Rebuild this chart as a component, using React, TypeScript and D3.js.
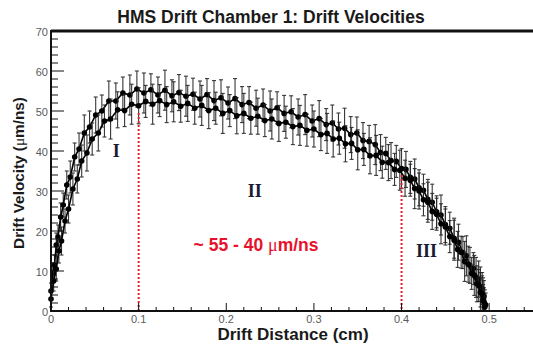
import React from "react";
import * as d3 from "d3";

const W = 533;
const H = 345;

const title = "HMS Drift Chamber 1: Drift Velocities";
const xTitle = "Drift Distance (cm)";

const xMajorTicks = [0, 0.1, 0.2, 0.3, 0.4, 0.5];
const xTickLabels = ["0", "0.1", "0.2", "0.3", "0.4", "0.5"];
const yMajorTicks = [0, 10, 20, 30, 40, 50, 60, 70];
const yTickLabels = ["0", "10", "20", "30", "40", "50", "60", "70"];

// Upper series
const xA = [
  0.0, 0.002, 0.004, 0.006, 0.008, 0.011, 0.014, 0.018, 0.022, 0.027, 0.032, 0.038,
  0.044, 0.051, 0.058, 0.066, 0.074, 0.082, 0.09, 0.098, 0.106, 0.114, 0.122, 0.13,
  0.138, 0.146, 0.154, 0.162, 0.17, 0.178, 0.186, 0.194, 0.202, 0.21, 0.218, 0.226,
  0.234, 0.242, 0.25, 0.258, 0.266, 0.274, 0.282, 0.29, 0.298, 0.306, 0.314, 0.321,
  0.328, 0.335, 0.342, 0.349, 0.356, 0.363, 0.37, 0.376, 0.382, 0.388, 0.394, 0.4,
  0.405, 0.41, 0.415, 0.42, 0.425, 0.43, 0.435, 0.44, 0.445, 0.45, 0.455, 0.46,
  0.465, 0.47, 0.474, 0.478, 0.482, 0.485, 0.488, 0.49, 0.492, 0.493, 0.494, 0.495,
  0.496,
];
const yA = [
  5, 9.5, 11.5, 16.5, 18.5, 23.5, 26.5, 31.5, 33.5, 38.5, 40.5, 44.5,
  46, 49, 50, 52.5, 52.5, 54.5, 54, 55.5, 54.5, 55.3, 54, 55.2,
  53.8, 54.6, 53.7, 54.2, 53, 54.1, 52.6, 53.3, 52, 53.1, 51.6, 52.1,
  50.7, 51.5, 50, 50.8, 49.4, 49.8, 48.5, 49.1, 47.5, 48.1, 46.6, 47,
  45.5, 45.7, 44.1, 44.5, 42.6, 42.4, 41.6, 39.6, 39.4, 37.6, 37.4, 35.6,
  35.4, 33.4, 33, 30.8, 30.2, 27.9, 27.2, 24.8, 24, 21.6, 20.7, 18.2,
  17.2, 14.6, 13.8, 11.4, 10.6, 8.4, 8, 6, 5.6, 3.8, 3.6, 1.8,
  1.5,
];
const errA = [
  2, 2.5, 2.5, 3, 3, 3.5, 3, 3.5, 4, 3.5, 4, 4.5,
  4, 4.5, 4, 5, 4.5, 4, 5, 4.5, 5, 4, 4.5, 5,
  4, 4.5, 5, 4, 4.5, 4, 5, 4.5, 4, 5, 4.5, 4,
  4.5, 4, 5, 4, 4.5, 4, 4.5, 5, 4, 4.5, 4, 4.5,
  4, 5, 4.5, 4, 4.5, 4, 5, 4.5, 4, 4.5, 4, 5,
  4.5, 4, 5, 4.5, 4, 5, 4.5, 4, 5, 4.5, 4, 5,
  4.5, 4, 5, 4.5, 4, 5, 4.5, 5, 4, 4.5, 4, 3.5,
  3,
];

// Lower series
const xB = [
  0.0, 0.003, 0.006, 0.009, 0.012, 0.016, 0.02, 0.025, 0.03, 0.035, 0.041, 0.047,
  0.054, 0.061, 0.068, 0.076, 0.084, 0.092, 0.1, 0.108, 0.116, 0.124, 0.132, 0.14,
  0.148, 0.156, 0.164, 0.172, 0.18, 0.188, 0.196, 0.204, 0.212, 0.22, 0.228, 0.236,
  0.244, 0.252, 0.26, 0.268, 0.276, 0.284, 0.292, 0.3, 0.308, 0.315, 0.322, 0.329,
  0.336, 0.343, 0.35, 0.357, 0.364, 0.371, 0.378, 0.385, 0.392, 0.398, 0.404, 0.41,
  0.415, 0.42, 0.425, 0.43, 0.435, 0.44, 0.445, 0.45, 0.455, 0.46, 0.464, 0.468,
  0.472, 0.476, 0.48, 0.483, 0.486, 0.488, 0.49, 0.492, 0.493, 0.494, 0.495,
];
const yB = [
  3, 7.5, 10.5, 15, 17.5, 22.5, 25.5, 30.5, 33, 37.5, 39.5, 43,
  44.5, 47.5, 48, 50.3, 50.1, 51.7, 51.3, 52.4, 51.7, 52.6, 51.6, 52.3,
  51.2, 51.9, 50.7, 51.4, 50.1, 50.7, 49.4, 50.1, 48.8, 49.4, 48.2, 48.7,
  47.6, 48, 46.9, 47.2, 46.1, 46.4, 45.2, 45.5, 44.1, 44.4, 43, 43.2,
  41.8, 41.9, 40.3, 40.4, 38.8, 38.9, 37.2, 37.1, 35.4, 35.2, 33.2, 32.7,
  30.6, 30, 27.8, 27.2, 24.9, 24.2, 21.8, 21, 18.6, 17.7, 15.4, 14.7,
  12.4, 11.7, 9.4, 8.9, 6.8, 6.4, 4.6, 4.3, 2.6, 2.3, 1,
];
const errB = [
  2, 2.5, 3, 3, 3.5, 3, 3.5, 4, 3.5, 4, 4.5, 4,
  4.5, 4, 5, 4.5, 4, 5, 4.5, 4, 5, 4, 4.5, 5,
  4, 4.5, 4, 5, 4.5, 4, 5, 4, 4.5, 5, 4, 4.5,
  4, 5, 4.5, 4, 4.5, 5, 4, 4.5, 4, 5, 4.5, 4,
  4.5, 4, 5, 4, 4.5, 5, 4, 4.5, 4, 5, 4.5, 4,
  5, 4.5, 4, 5, 4.5, 4, 5, 4.5, 4, 5, 4.5, 4,
  5, 4.5, 4, 5, 4.5, 4, 5, 4.5, 4, 3.5, 3,
];

const regionLines = [
  { x: 0.1, top: 49.5 },
  { x: 0.4, top: 34 },
];

const regionLabels = [
  { text: "I", x: 0.0746, y: 38.5 },
  { text: "II", x: 0.2324, y: 28.5 },
  { text: "III", x: 0.4285, y: 13.5 },
];

const rateLabel = { pre: "~ 55 - 40 ", mu: "μ", post: "m/ns", x: 0.234, y: 15 };

type Pt = { x: number; y: number; e: number };

export default function App() {
  const left = 51;
  const right = 533;
  const top = 31;
  const bottom = 311;

  const x = d3.scaleLinear().domain([0, 0.55]).range([left, right]);
  const y = d3.scaleLinear().domain([0, 70]).range([bottom, top]);

  const xMinor = d3
    .range(0, 0.5501, 0.02)
    .filter((v) => Math.abs(v * 10 - Math.round(v * 10)) > 1e-6);
  const yMinor = d3.range(0, 70.01, 2).filter((v) => v % 10 !== 0);

  const series: Pt[][] = [
    xA.map((v, i) => ({ x: v, y: yA[i], e: errA[i] })),
    xB.map((v, i) => ({ x: v, y: yB[i], e: errB[i] })),
  ];
  const line = d3
    .line<Pt>()
    .x((d) => x(d.x))
    .y((d) => y(d.y));

  const sans = "'Liberation Sans', Arial, Helvetica, sans-serif";
  const serif = "'Liberation Serif', 'DejaVu Serif', serif";

  return (
    <svg
      width={W}
      height={H}
      style={{ position: "absolute", left: 0, top: 0, background: "#fff" }}
    >
      <rect x={0} y={0} width={W} height={H} fill="#fff" />
      {/* title */}
      <text x={271} y={23} textAnchor="middle" fontFamily={sans} fontWeight="bold" fontSize={17.5} fill="#1a1a1a">
        {title}
      </text>

      {/* data */}
      <g>
        {series.map((s, si) => (
          <g key={si}>
            {s.map((d, i) => {
              const cx = x(d.x);
              const hi = y(d.y + d.e);
              const lo = y(Math.max(0, d.y - d.e));
              return (
                <g key={i} stroke="#222" strokeWidth={1.1} opacity={0.9}>
                  <line x1={cx} x2={cx} y1={lo} y2={hi} />
                  <line x1={cx - 2} x2={cx + 2} y1={hi} y2={hi} />
                  {d.y - d.e > 0 && <line x1={cx - 2} x2={cx + 2} y1={lo} y2={lo} />}
                </g>
              );
            })}
            <path d={line(s) || ""} fill="none" stroke="#000" strokeWidth={1.6} />
            {s.map((d, i) => (
              <circle key={i} cx={x(d.x)} cy={y(d.y)} r={2.8} fill="#000" />
            ))}
          </g>
        ))}
      </g>

      {/* red dotted region lines */}
      {regionLines.map((r, i) => (
        <line
          key={i}
          x1={x(r.x)}
          x2={x(r.x)}
          y1={y(r.top)}
          y2={y(0)}
          stroke="#e0202a"
          strokeWidth={2}
          strokeDasharray="2,2"
        />
      ))}

      {/* frame */}
      <rect x={left} y={top} width={right - left + 2} height={bottom - top} fill="none" stroke="#111" strokeWidth={2} />
      <line x1={left} x2={right + 2} y1={top} y2={top} stroke="#111" strokeWidth={3} />

      {/* y ticks */}
      {yMajorTicks.map((v) => (
        <line key={"ym" + v} x1={left} x2={left + 13} y1={y(v)} y2={y(v)} stroke="#111" strokeWidth={1} />
      ))}
      {yMinor.map((v) => (
        <line key={"yn" + v} x1={left} x2={left + 7} y1={y(v)} y2={y(v)} stroke="#111" strokeWidth={1} />
      ))}
      {yMajorTicks.map((v, i) => (
        <text key={"yl" + v} x={left - 3} y={y(v) + 5} textAnchor="end" fontFamily={sans} fontSize={11} fill="#5a5a5a">
          {yTickLabels[i]}
        </text>
      ))}

      {/* x ticks */}
      {xMajorTicks.map((v) => (
        <line key={"xm" + v} x1={x(v)} x2={x(v)} y1={bottom} y2={bottom - 8} stroke="#111" strokeWidth={1} />
      ))}
      {xMinor.map((v) => (
        <line key={"xn" + v} x1={x(v)} x2={x(v)} y1={bottom} y2={bottom - 4} stroke="#111" strokeWidth={1} />
      ))}
      {xMajorTicks.map((v, i) => (
        <text key={"xl" + v} x={x(v)} y={bottom + 12} textAnchor="middle" fontFamily={sans} fontSize={11} fill="#5a5a5a">
          {xTickLabels[i]}
        </text>
      ))}

      {/* axis titles */}
      <text x={293} y={340} textAnchor="middle" fontFamily={sans} fontWeight="bold" fontSize={17} fill="#1a1a1a">
        {xTitle}
      </text>
      <text
        transform={`translate(24, 173) rotate(-90)`}
        textAnchor="middle"
        fontFamily={sans}
        fontWeight="bold"
        fontSize={15.3}
        fill="#1a1a1a"
      >
        Drift Velocity (<tspan fontFamily={serif} fontWeight="normal">μ</tspan>m/ns)
      </text>

      {/* region labels */}
      {regionLabels.map((l, i) => (
        <text key={i} x={x(l.x)} y={y(l.y)} textAnchor="middle" fontFamily={serif} fontWeight="bold" fontSize={18} fill="#1a1a33">
          {l.text}
        </text>
      ))}
      <text x={x(rateLabel.x)} y={y(rateLabel.y)} textAnchor="middle" fontFamily={sans} fontWeight="bold" fontSize={17.5} fill="#e8102a">
        {rateLabel.pre}
        <tspan fontFamily={serif} fontWeight="normal" fontSize={18}>{rateLabel.mu}</tspan>
        {rateLabel.post}
      </text>
    </svg>
  );
}
